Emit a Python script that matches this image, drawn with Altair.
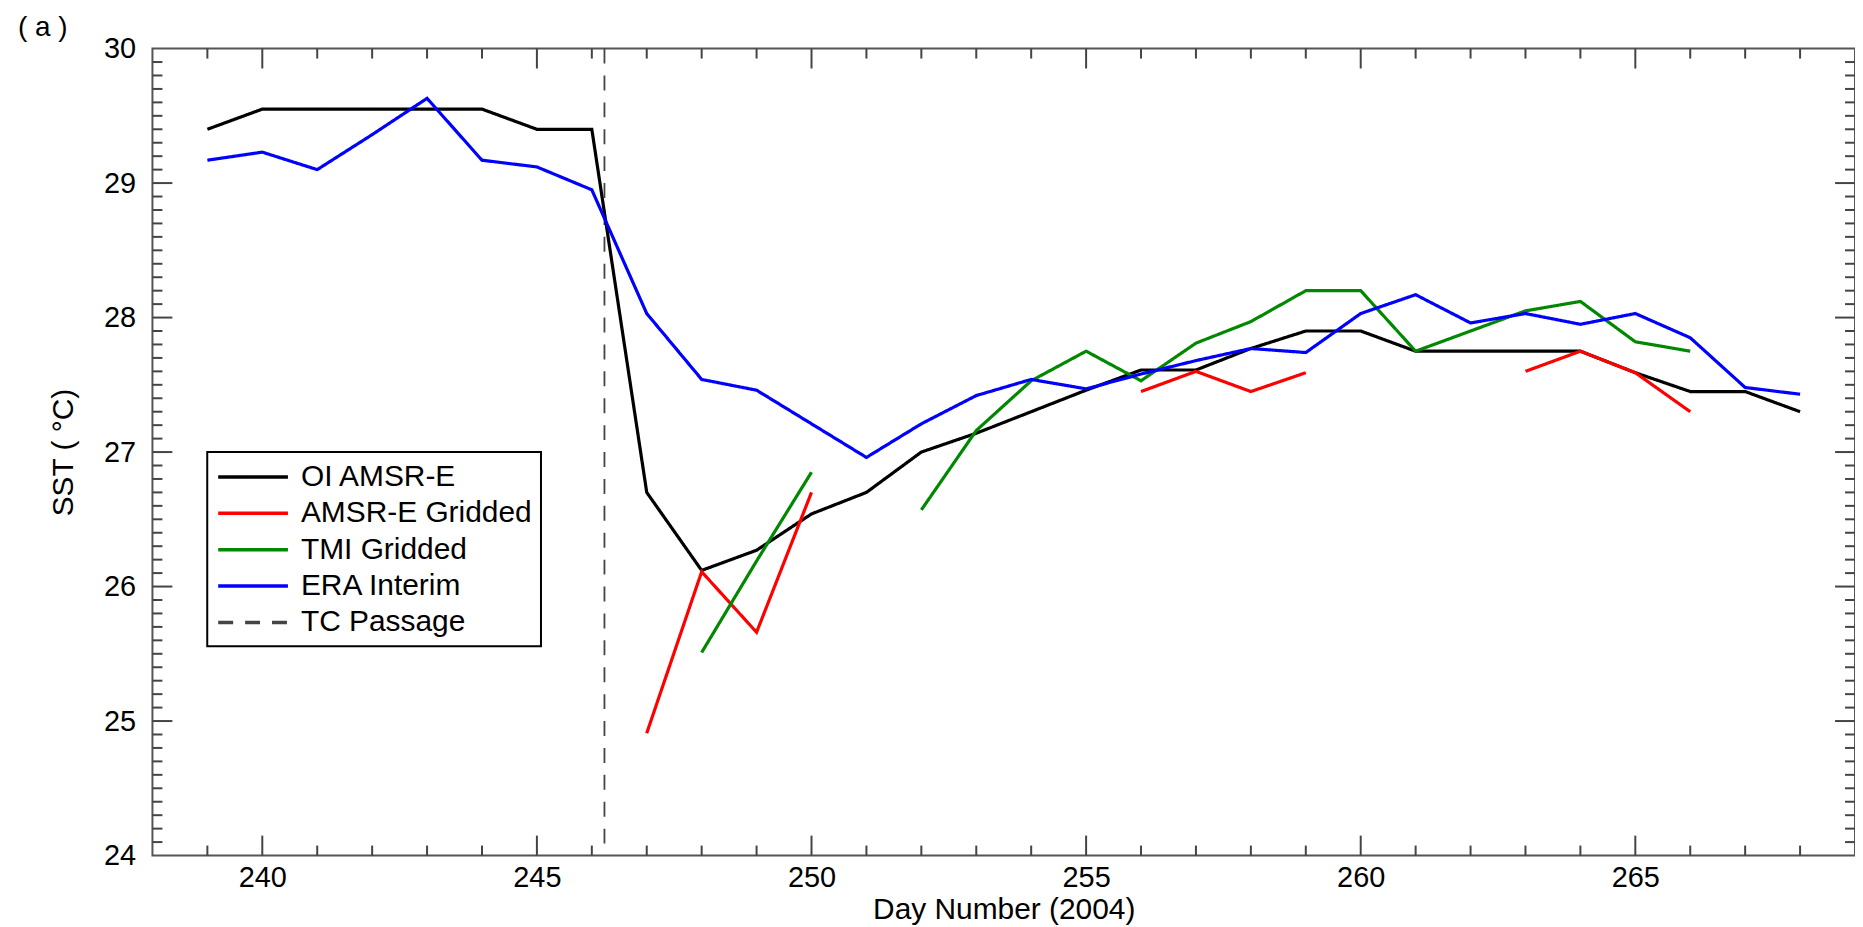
import altair as alt
import pandas as pd

# ---------------- data ----------------
names = ["OI AMSR-E", "AMSR-E Gridded", "TMI Gridded", "ERA Interim", "TC Passage"]

days = list(range(239, 269))
oi_amsre = [29.40, 29.55, 29.55, 29.55, 29.55, 29.55, 29.40, 29.40, 26.70, 26.12,
            26.27, 26.54, 26.70, 27.00, 27.14, 27.30, 27.46, 27.61, 27.61, 27.77,
            27.90, 27.90, 27.75, 27.75, 27.75, 27.75, 27.59, 27.45, 27.45, 27.30]
era_interim = [29.17, 29.23, 29.10, 29.36, 29.63, 29.17, 29.12, 28.95, 28.03, 27.54,
               27.46, 27.21, 26.96, 27.21, 27.42, 27.54, 27.47, 27.58, 27.68, 27.77,
               27.74, 28.03, 28.17, 27.96, 28.03, 27.95, 28.03, 27.85, 27.48, 27.43]

amsre_days = [247, 248, 249, 250, 256, 257, 258, 259, 263, 264, 265, 266]
amsre_vals = [24.91, 26.11, 25.66, 26.70, 27.45, 27.60, 27.45, 27.59, 27.60, 27.75, 27.59, 27.30]
amsre_seg = [1, 1, 1, 1, 2, 2, 2, 2, 3, 3, 3, 3]

tmi_days = [248, 249, 250, 252, 253, 254, 255, 256, 257, 258, 259, 260, 261, 262, 263, 264, 265, 266]
tmi_vals = [25.51, 26.19, 26.85, 26.57, 27.16, 27.53, 27.75, 27.53, 27.81, 27.97, 28.20, 28.20,
            27.75, 27.90, 28.05, 28.12, 27.82, 27.75]
tmi_seg = [1, 1, 1, 2, 2, 2, 2, 2, 2, 2, 2, 2, 2, 2, 2, 2, 2, 2]

tc_day = [246.23]

# axis ticks
x_major = [240, 245, 250, 255, 260, 265]
x_minor = [d for d in range(239, 269) if d % 5 != 0]
y_labels = [24, 25, 26, 27, 28, 29, 30]
y_major = [25, 26, 27, 28, 29]
y_minor = [round(24 + i * 0.1, 1) for i in range(1, 60) if i % 10 != 0]

# ---------------- tables ----------------
rows = []
for d, v in zip(days, oi_amsre):
    rows.append({"day": d, "sst": v, "series": names[0], "key": "oi"})
for d, v, s in zip(amsre_days, amsre_vals, amsre_seg):
    rows.append({"day": d, "sst": v, "series": names[1], "key": f"amsre{s}"})
for d, v, s in zip(tmi_days, tmi_vals, tmi_seg):
    rows.append({"day": d, "sst": v, "series": names[2], "key": f"tmi{s}"})
for d, v in zip(days, era_interim):
    rows.append({"day": d, "sst": v, "series": names[3], "key": "era"})
df = pd.DataFrame(rows)
df_tc = pd.DataFrame({"day": tc_day, "series": [names[4]]})

df_xmaj = pd.DataFrame({"day": x_major})
df_xmin = pd.DataFrame({"day": x_minor})
df_ymaj = pd.DataFrame({"v": y_major})
df_ymin = pd.DataFrame({"v": y_minor})

# ---------------- chart ----------------
W, H = 1709, 810
FONT = "Liberation Sans"
FS_LAB = 29
FS_TIT = 30
TICK = "#444444"

xs = alt.Scale(domain=[238, 269], nice=False, zero=False)
ys = alt.Scale(domain=[24, 30], nice=False, zero=False)
color_scale = alt.Scale(domain=names, range=["#000000", "#ff0000", "#008800", "#0000ff", "#444444"])
dash_scale = alt.Scale(domain=names, range=[[1, 0], [1, 0], [1, 0], [1, 0], [15, 12]])

leg = alt.Legend(title=None, orient="none", legendX=55, legendY=405)

x_axis = alt.Axis(values=x_major, format="d", ticks=False, domain=False, grid=False,
                  labelFont=FONT, labelFontSize=FS_LAB, labelColor="black", labelPadding=8,
                  title="Day Number (2004)", titleFont=FONT, titleFontSize=FS_TIT,
                  titleFontWeight="normal", titleColor="black", titlePadding=2)
y_axis = alt.Axis(values=y_labels, format="d", ticks=False, domain=False, grid=False,
                  labelFont=FONT, labelFontSize=FS_LAB, labelColor="black", labelPadding=17,
                  title="SST ( °C)", titleFont=FONT, titleFontSize=FS_TIT,
                  titleFontWeight="normal", titleColor="black", titlePadding=25)

lines = alt.Chart(df).mark_line(strokeWidth=3.2).encode(
    x=alt.X("day:Q", scale=xs, axis=x_axis),
    y=alt.Y("sst:Q", scale=ys, axis=y_axis),
    color=alt.Color("series:N", scale=color_scale, legend=leg),
    strokeDash=alt.StrokeDash("series:N", scale=dash_scale, legend=leg),
    detail="key:N",
)

tc = alt.Chart(df_tc).mark_rule(strokeWidth=1.8).encode(
    x=alt.X("day:Q", scale=xs),
    color=alt.Color("series:N", scale=color_scale, legend=leg),
    strokeDash=alt.StrokeDash("series:N", scale=dash_scale, legend=leg),
)

def xticks(data, length, top):
    if top:
        y0, y1 = 0, length
    else:
        y0, y1 = H, H - length
    return alt.Chart(data).mark_rule(color=TICK, strokeWidth=2).encode(
        x=alt.X("day:Q", scale=xs), y=alt.value(y0), y2=alt.value(y1))

def yticks(data, length, left):
    if left:
        x0, x1 = 0, length
    else:
        x0, x1 = W, W - length
    return alt.Chart(data).mark_rule(color=TICK, strokeWidth=2).encode(
        y=alt.Y("v:Q", scale=ys), x=alt.value(x0), x2=alt.value(x1))

ticks = [
    xticks(df_xmaj, 20, True), xticks(df_xmaj, 20, False),
    xticks(df_xmin, 10, True), xticks(df_xmin, 10, False),
    yticks(df_ymaj, 20, True), yticks(df_ymaj, 20, False),
    yticks(df_ymin, 10, True), yticks(df_ymin, 10, False),
]

chart = alt.layer(*ticks, tc, lines).properties(
    width=W, height=H,
    autosize=alt.AutoSizeParams(type="none"),
    padding={"left": 145, "top": 39, "right": 0, "bottom": 70},
    title=alt.TitleParams("( a )", anchor="start", frame="group", offset=7, dx=-135, dy=14,
                          fontSize=28, font=FONT, fontWeight="normal", color="black"),
).configure_view(
    stroke="#555555", strokeWidth=2
).configure_legend(
    padding=9, strokeColor="black", strokeWidth=2, fillColor="white", cornerRadius=0,
    symbolType="M-2.5,0L2.5,0", symbolSize=784, symbolStrokeWidth=3.5, symbolOffset=21,
    labelFont=FONT, labelFontSize=FS_TIT, labelColor="black", labelOffset=32, labelLimit=0,
    rowPadding=5.5,
)

chart.save("out.html", embed_options={"renderer": "svg", "actions": False})
